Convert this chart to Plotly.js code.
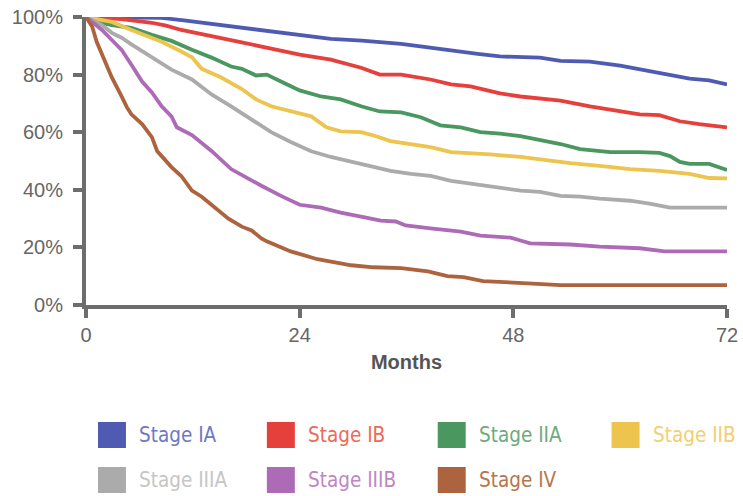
<!DOCTYPE html>
<html><head><meta charset="utf-8">
<script src="https://cdn.plot.ly/plotly-3.0.1.min.js"></script>
<style>html,body{margin:0;padding:0;background:#fff}#chart{width:743px;height:496px}</style>
</head><body><div id="chart"></div>
<script>
// ---- data ----
const stages = ["Stage IA","Stage IB","Stage IIA","Stage IIB","Stage IIIA","Stage IIIB","Stage IV"];

const monthsIA = [0,3,6,8.5,11,13,15,17.5,19.7,22,24,27.5,31,35.4,38,41,44,46.5,49,51,53.3,56.6,60,63.3,65.6,67.8,70,72];
const survIA   = [100,100,99.9,99.7,98.8,98,97.4,96.4,95.2,94.4,93.8,92.4,91.8,90.7,89.6,88.3,87.2,86.3,86,85.9,84.8,84.5,83.1,81.2,80,78.6,78,76.6];

const monthsIB = [0,2,4,7.4,9,10.7,13,15.2,17.5,20.8,24,27.5,30.9,33,35.4,38.7,41,43.2,46.5,48.8,51,53.3,56.6,60,62.2,64.4,66.7,68.9,72];
const survIB   = [100,99.8,99.3,98,97,95.5,94.1,92.8,91.2,89,86.9,85.2,82.4,80,80,78.3,76.6,75.9,73.5,72.4,71.7,71,69,67.2,66.2,65.9,63.8,62.8,61.7];

const monthsIIA = [0,1,2.9,5.1,7.4,9.6,11.9,14.1,16.3,17.5,19.1,20.3,21.9,24,26.4,28.6,30.9,33,35.4,37.6,39.8,42.1,44.3,46.5,48.8,51,53.3,55.5,57.7,58.9,62.2,64.4,65.6,66.7,67.8,70,72];
const survIIA   = [100,98.5,97.2,96.2,93.8,91.7,88.6,85.9,82.8,82,79.7,80,77.6,74.5,72.4,71.4,69,67.2,66.9,65.2,62.4,61.7,60,59.5,58.6,57.2,55.9,54.1,53.4,53.1,53.1,52.8,51.7,49.7,49,49,46.9];

const monthsIIB = [0,2.9,5.1,7.4,8.5,10.7,11.9,13,15.2,17.5,19.1,20.8,23,25.3,27,28.6,30.9,32.6,34.2,36.5,38.7,41,43.2,45.4,48.8,52.1,54.4,57.7,61.1,64.4,67.8,70,72];
const survIIB   = [100,98.3,95.5,92.8,91.4,88,86,82,79,75,71.4,69,67.2,65.5,61.7,60.3,60,58.6,56.9,55.9,54.8,53.1,52.8,52.3,51.4,50,49.3,48.3,47.2,46.6,45.5,44.1,44];

const monthsIIIA = [0,1.8,2.9,4,5.1,7.4,9.6,11.9,14.1,16.3,18.6,20.8,23,25.3,27.5,29.8,32,34.2,36.5,38.7,41,43.2,45.4,48.8,51,53.3,55.5,57.7,61.1,63.3,65.6,72];
const survIIIA   = [100,97.2,94.5,92.8,90.5,85.9,81.7,78.3,73.1,69,64.5,60,56.6,53.4,51.4,49.7,47.9,46.6,45.5,44.8,43.1,42.1,41,39.7,39.3,37.9,37.6,36.9,36.2,35.2,33.8,33.8];

const monthsIIIB = [0,1.8,2.9,4,5.1,6.3,7.4,8.5,9.6,10.2,11.9,14.1,16.3,18.6,19.7,21.9,24,26.4,28.6,30.9,33.1,34.8,35.9,38.7,42.1,44.3,46.5,47.7,48.8,49.9,54.4,57.7,62.2,65,72];
const survIIIB   = [100,95.5,92,88.6,83.4,77.6,73.8,69,65.5,61.7,59,53.5,47.2,43.1,41.4,37.9,34.8,33.8,32.1,30.7,29.3,29,27.6,26.6,25.5,24.1,23.8,23.4,22.4,21.4,21,20.3,19.7,18.6,18.6];

const monthsIV = [0,0.7,1.2,1.8,2.3,2.9,4,4.6,5.1,6.3,7.4,8,8.5,9.6,10.7,11.9,13,14.4,16,17.5,18.6,19.7,20.3,23,26,29.8,32.3,35.4,38.4,40.6,42.4,44.6,46.5,49.1,53.3,72];
const survIV   = [100,96.6,91.4,86.9,82.8,79,72.4,68.6,66.2,62.8,58.3,53.4,51.7,47.9,44.8,39.7,37.6,34.1,30,27.2,25.9,23.1,22.1,18.6,15.9,13.8,13.1,12.8,11.7,10,9.7,8.3,7.9,7.6,6.9,6.9];

const xTickVals = [0,24,48,72];
const yTickVals = [0,20,40,60,80,100];
const yTickText = ["0%","20%","40%","60%","80%","100%"];

// ---- styles ----
const lineColors = ["#4f5bb3","#e5403c","#4a975f","#ecc44e","#ababab","#ad6bb7","#ad633d"];
const textColors = ["#6f78c2","#ee6a58","#6eaa80","#f1cf72","#c6c6c6","#bf86c6","#b5764f"];

const monthSets = [monthsIA,monthsIB,monthsIIA,monthsIIB,monthsIIIA,monthsIIIB,monthsIV];
const survSets  = [survIA,survIB,survIIA,survIIB,survIIIA,survIIIB,survIV];

const traces = stages.map((s,i)=>({
  type:"scatter", mode:"lines", name:s,
  x: monthSets[i], y: survSets[i],
  line:{color:lineColors[i], width:3.8},
  showlegend:false, hoverinfo:"skip"
}));

const W=743, H=496, L=86, R=15.5, T=17, B=191;
const pw = W-L-R, ph = H-T-B;
const px2x = px => (px-L)/pw;
const py2y = py => (H-B-py)/ph;

const colLeft = [98,267,438,612];
const rowTop = [422,467];
const shapes = [], annotations = [];
stages.forEach((s,i)=>{
  const c = i<4 ? i : i-4, r = i<4 ? 0 : 1;
  const x0 = colLeft[c], y0 = rowTop[r];
  shapes.push({type:"rect", xref:"paper", yref:"paper",
    x0:px2x(x0), x1:px2x(x0+28), y0:py2y(y0+26), y1:py2y(y0),
    fillcolor:lineColors[i], line:{width:0}});
  annotations.push({xref:"paper", yref:"paper", x:px2x(x0+39), y:py2y(y0+13),
    xanchor:"left", yanchor:"middle", showarrow:false, text:s,
    font:{family:"'Liberation Sans Narrow','DejaVu Sans Condensed','Roboto Condensed',sans-serif", size:20.5, color:textColors[i]}});
});

const axisColor = "#6d6d6d";
const layout = {
  width:W, height:H,
  margin:{l:L, r:R, t:T, b:B, pad:0},
  paper_bgcolor:"#fff", plot_bgcolor:"#fff",
  font:{family:"'Liberation Sans',Arial,sans-serif", color:"#666"},
  xaxis:{range:[0,72], tickvals:xTickVals, ticktext:xTickVals.map(String),
    showgrid:false, zeroline:false, showline:true, linecolor:axisColor, linewidth:4,
    ticks:"outside", ticklen:9, tickwidth:4, tickcolor:axisColor,
    tickfont:{size:20, color:"#666"},
    title:{text:"Months", standoff:11, font:{size:20, weight:700, color:"#555"}}},
  yaxis:{range:[0,100], tickvals:yTickVals, ticktext:yTickText,
    showgrid:false, zeroline:false, showline:true, linecolor:axisColor, linewidth:4,
    ticks:"outside", ticklen:9, tickwidth:4, tickcolor:axisColor,
    ticklabelstandoff:6,
    tickfont:{size:20, color:"#666"}},
  shapes:shapes, annotations:annotations,
  showlegend:false, hovermode:false
};

Plotly.newPlot("chart", traces, layout, {staticPlot:true, displayModeBar:false});
</script>
</body></html>
